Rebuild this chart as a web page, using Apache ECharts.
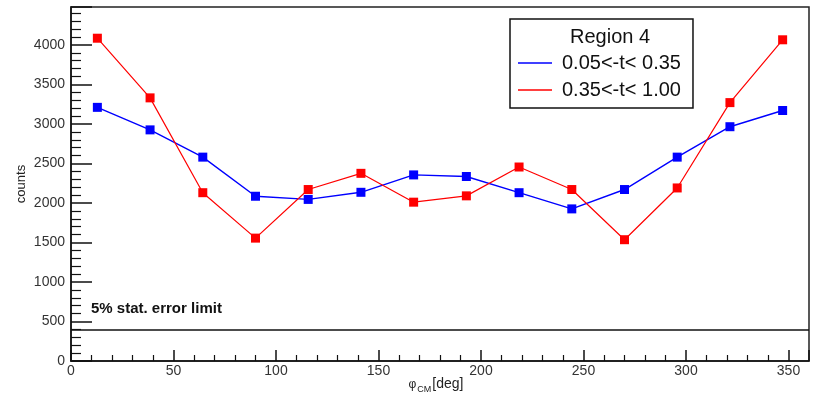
<!DOCTYPE html>
<html>
<head>
<meta charset="utf-8">
<script src="https://cdn.jsdelivr.net/npm/echarts@6/dist/echarts.min.js"></script>
<style>
  html, body { margin: 0; padding: 0; background: #fff; }
  #chart { width: 817px; height: 396px; }
</style>
</head>
<body>
<div id="chart"></div>
<script>
// bin centres in phi_CM (deg)
var phiBins = [12.86, 38.57, 64.29, 90, 115.71, 141.43, 167.14, 192.86, 218.57, 244.29, 270, 295.71, 321.43, 347.14];
var lowT = [3210, 2925, 2580, 2085, 2045, 2135, 2355, 2335, 2130, 1925, 2170, 2580, 2965, 3170];
var highT = [4085, 3330, 2130, 1555, 2170, 2375, 2010, 2090, 2455, 2170, 1535, 2190, 3270, 4065];
var seriesNames = ['0.05<-t< 0.35', '0.35<-t< 1.00'];
var errorLimit = 400;

function pairs(ys) {
    return phiBins.map(function (x, i) { return [x, ys[i]]; });
}

var font = 'Liberation Sans, Arial, Helvetica, sans-serif';
var mychart = echarts.init(document.getElementById('chart'));
mychart.setOption({
    animation: false,
    textStyle: { fontFamily: font },
    title: {
        text: 'Region 4',
        left: 565,
        top: 22,
        textStyle: { fontFamily: font, fontSize: 20, fontWeight: 'normal', color: '#111' }
    },
    legend: {
        data: seriesNames,
        orient: 'vertical',
        left: 510,
        top: 19,
        padding: [34, 12, 8, 8],
        borderColor: '#111',
        borderWidth: 1.5,
        backgroundColor: '#fff',
        icon: 'rect',
        itemWidth: 34,
        itemHeight: 1.5,
        itemGap: 7,
        textStyle: { fontFamily: font, fontSize: 20, color: '#111', lineHeight: 20, padding: [0, 0, 0, 5] }
    },
    grid: {
        left: 71, right: 8, top: 7, bottom: 35,
        outerBoundsMode: 'none',
        containLabel: false,
        show: true, borderColor: '#222', borderWidth: 1.5
    },
    xAxis: {
        type: 'value',
        min: 0, max: 360, interval: 50,
        name: '{p|φ}{s|CM}{d|[deg]}',
        nameLocation: 'middle',
        nameGap: 14,
        nameMoveOverlap: false,
        nameTextStyle: {
            padding: [0, 8, 0, 0],
            rich: {
                p: { fontFamily: font, fontSize: 12, color: '#222' },
                s: { fontFamily: font, fontSize: 9, color: '#222', padding: [10, 1, 0, 1] },
                d: { fontFamily: font, fontSize: 14, color: '#222' }
            }
        },
        axisLine: { lineStyle: { color: '#111', width: 1.5 } },
        axisTick: { inside: true, length: 11, lineStyle: { color: '#111', width: 1.5 } },
        minorTick: { show: true, splitNumber: 5, length: 6, lineStyle: { color: '#111', width: 1.2 } },
        axisLabel: { showMaxLabel: false, fontSize: 14, color: '#333', margin: 3 },
        splitLine: { show: false }
    },
    yAxis: {
        type: 'value',
        min: 0, max: 4480, interval: 500,
        name: 'counts',
        nameLocation: 'middle',
        nameGap: 43,
        nameMoveOverlap: false,
        nameTextStyle: { fontFamily: font, fontSize: 13, color: '#222' },
        axisLine: { lineStyle: { color: '#111', width: 1.5 } },
        axisTick: { inside: true, length: 21, lineStyle: { color: '#111', width: 1.5 } },
        minorTick: { show: true, splitNumber: 5, length: 10, lineStyle: { color: '#111', width: 1.2 } },
        axisLabel: {
            showMaxLabel: false, fontSize: 14, color: '#333', margin: 6,
            formatter: function (v) { return String(v); }
        },
        splitLine: { show: false }
    },
    series: [{
        name: seriesNames[0],
        type: 'line',
        data: pairs(lowT),
        color: '#0000ff',
        symbol: 'rect',
        symbolSize: 9,
        lineStyle: { width: 1.4 },
        markLine: {
            silent: true,
            symbol: 'none',
            data: [{ yAxis: errorLimit }],
            lineStyle: { color: '#111', width: 1.5, type: 'solid' },
            label: {
                position: 'insideStartTop',
                distance: [20, 13],
                formatter: '5% stat. error limit',
                fontFamily: font, fontSize: 15, fontWeight: 'bold', color: '#111'
            }
        }
    }, {
        name: seriesNames[1],
        type: 'line',
        data: pairs(highT),
        color: '#ff0000',
        symbol: 'rect',
        symbolSize: 9,
        lineStyle: { width: 1.2 }
    }]
});
</script>
</body>
</html>
